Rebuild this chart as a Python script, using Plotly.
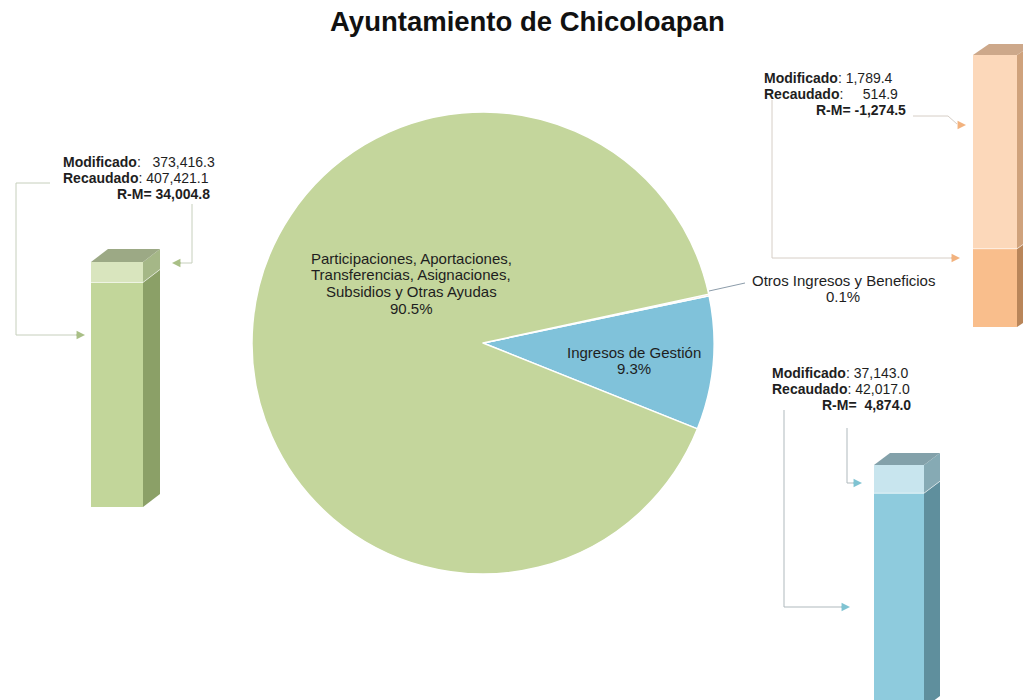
import plotly.graph_objects as go

# ---------------- data ----------------
rubros = [
    "Ingresos de Gestión",
    "Otros Ingresos y Beneficios",
    "Participaciones, Aportaciones, Transferencias, Asignaciones, Subsidios y Otras Ayudas",
]
rubros_lineas = [
    ["Ingresos de Gestión"],
    ["Otros Ingresos y Beneficios"],
    ["Participaciones, Aportaciones,", "Transferencias, Asignaciones,", "Subsidios y Otras Ayudas"],
]
modificado = [37143.0, 1789.4, 373416.3]
recaudado = [42017.0, 514.9, 407421.1]

titulo = "Ayuntamiento de Chicoloapan"

# ---------------- styles / layout helpers ----------------
W, H = 1023, 700
FONT = "Liberation Sans, Arial, sans-serif"
TXT = "#1e1e1e"


def fx(p):
    return p / W


def fy(p):
    return 1 - p / H


pie_colors = ["#80C2DA", "#F8AA70", "#C4D69C"]

# pixel frame of each 3D column: left, front width, base, top, depth x, depth y
bar_frames = [
    dict(L=874, Wd=50, B=708, T=465, dx=16, dy=12),   # Ingresos de Gestión
    dict(L=973, Wd=44, B=327, T=55, dx=16, dy=11),    # Otros Ingresos
    dict(L=91, Wd=52, B=507, T=262, dx=17, dy=13),    # Participaciones
]
bar_colors = [
    dict(low="#8ECBDD", high="#C8E5EE", side_low="#5F8F9D", side_high="#86AAB4", top="#83A1AA"),
    dict(low="#F9BE8C", high="#FCD8BA", side_low="#B98559", side_high="#CFA27C", top="#CDA88A"),
    dict(low="#C2D69A", high="#D9E5BE", side_low="#8BA067", side_high="#A5B787", top="#9CA985"),
]

fig = go.Figure()

# ---------------- pie ----------------
cx, cy, rad = 483, 343, 231
fig.add_trace(go.Pie(
    labels=rubros,
    values=recaudado,
    sort=False,
    direction="counterclockwise",
    rotation=78.2,
    marker=dict(colors=pie_colors, line=dict(color="white", width=1.5)),
    textinfo="none",
    hoverinfo="skip",
    showlegend=False,
    domain=dict(x=[fx(cx - rad), fx(cx + rad)], y=[fy(cy + rad), fy(cy - rad)]),
))

total = sum(recaudado)
pct = [v / total for v in recaudado]

annotations = []
shapes = []

# pie labels (line by line, centre x and first-line y in pixels)
pie_label_pos = [(634, 352), (843, 280), (411, 258)]
for i, (px, py) in enumerate(pie_label_pos):
    lines = rubros_lineas[i] + [f"{pct[i]:.1%}"]
    for j, ln in enumerate(lines):
        annotations.append(dict(
            x=fx(px), y=fy(py + j * 16.8), xref="paper", yref="paper",
            text=ln, showarrow=False, xanchor="center", yanchor="middle",
            font=dict(family=FONT, size=15, color=TXT),
        ))

# leader line to the small slice label
shapes.append(dict(type="line", xref="paper", yref="paper",
                   x0=fx(709), y0=fy(291), x1=fx(745), y1=fy(283),
                   line=dict(color="#8C9CAA", width=1)))

# ---------------- 3D columns ----------------
layout_axes = {}
for k in range(3):
    fr = bar_frames[k]
    col = bar_colors[k]
    m, r = modificado[k], recaudado[k]
    low, high = min(m, r), max(m, r)

    n = "" if k == 0 else str(k + 1)
    xa, ya = "x" + n, "y" + n

    vpp = high / (fr["B"] - fr["T"])           # value per pixel
    pbot = min(fr["B"], H)
    ptop = fr["T"] - fr["dy"] - 3
    right = min(fr["L"] + fr["Wd"] + fr["dx"] + 3, W)
    xr = (right - fr["L"]) / fr["Wd"]

    layout_axes["xaxis" + n] = dict(domain=[fx(fr["L"]), fx(right)], range=[0, xr],
                                    visible=False, fixedrange=True, anchor=ya)
    layout_axes["yaxis" + n] = dict(domain=[fy(pbot), fy(ptop)],
                                    range=[(fr["B"] - pbot) * vpp, (fr["B"] - ptop) * vpp],
                                    visible=False, fixedrange=True, anchor=xa)

    ddx = fr["dx"] / fr["Wd"]
    ddy = fr["dy"] * vpp

    # front faces
    fig.add_trace(go.Bar(x=[0.5], y=[low], base=[0], width=[1], xaxis=xa, yaxis=ya,
                         marker=dict(color=col["low"], line=dict(width=0)),
                         hoverinfo="skip", showlegend=False))
    fig.add_trace(go.Bar(x=[0.5], y=[high - low], base=[low], width=[1], xaxis=xa, yaxis=ya,
                         marker=dict(color=col["high"], line=dict(width=0)),
                         hoverinfo="skip", showlegend=False))
    # side faces
    fig.add_trace(go.Scatter(x=[1, 1 + ddx, 1 + ddx, 1, 1], y=[0, ddy, low + ddy, low, 0],
                             xaxis=xa, yaxis=ya, mode="lines", fill="toself",
                             fillcolor=col["side_low"], line=dict(width=0),
                             hoverinfo="skip", showlegend=False))
    fig.add_trace(go.Scatter(x=[1, 1 + ddx, 1 + ddx, 1, 1], y=[low, low + ddy, high + ddy, high, low],
                             xaxis=xa, yaxis=ya, mode="lines", fill="toself",
                             fillcolor=col["side_high"], line=dict(width=0),
                             hoverinfo="skip", showlegend=False))
    # boundary between segments
    fig.add_trace(go.Scatter(x=[0, 1, 1 + ddx], y=[low, low, low + ddy],
                             xaxis=xa, yaxis=ya, mode="lines",
                             line=dict(color="rgba(255,255,255,0.55)", width=1),
                             hoverinfo="skip", showlegend=False))
    # top face
    fig.add_trace(go.Scatter(x=[0, 1, 1 + ddx, ddx, 0], y=[high, high, high + ddy, high + ddy, high],
                             xaxis=xa, yaxis=ya, mode="lines", fill="toself",
                             fillcolor=col["top"], line=dict(width=0),
                             hoverinfo="skip", showlegend=False))

# ---------------- value boxes ----------------
NB = "\u00a0"


def fmt(v):
    return f"{v:,.1f}"


# (left x, first line y, right x of R-M line, gaps after Modificado/Recaudado)
value_boxes = [
    dict(x=770, y=373, xr=913, g1=1, g2=1, g3=2),
    dict(x=762, y=78, xr=908, g1=1, g2=5, g3=1),
    dict(x=61, y=162, xr=212, g1=3, g2=1, g3=1),
]
for k, vb in enumerate(value_boxes):
    m, r = modificado[k], recaudado[k]
    rows = [
        (f"<b>Modificado</b>:{NB * vb['g1']}{fmt(m)}", vb["x"], "left"),
        (f"<b>Recaudado</b>:{NB * vb['g2']}{fmt(r)}", vb["x"], "left"),
        (f"<b>R-M={NB * vb['g3']}{fmt(r - m)}</b>", vb["xr"], "right"),
    ]
    for j, (t, xx, anc) in enumerate(rows):
        annotations.append(dict(
            x=fx(xx), y=fy(vb["y"] + j * 16), xref="paper", yref="paper",
            text=t, showarrow=False, xanchor=anc, yanchor="middle",
            font=dict(family=FONT, size=14, color=TXT),
        ))

# ---------------- connector lines and arrowheads ----------------
connectors = [
    # Participaciones column
    dict(path=[(50, 183), (16, 183), (16, 335), (80, 335)], tip=(85, 335), ax=-10, line="#C6CFBC", arrow="#A9BF86"),
    dict(path=[(192, 204), (192, 263), (178, 263)], tip=(172, 263), ax=10, line="#C6CFBC", arrow="#A9BF86"),
    # Otros Ingresos column
    dict(path=[(772, 100), (772, 258), (954, 258)], tip=(960, 258), ax=-10, line="#D6CEC6", arrow="#F2B27E"),
    dict(path=[(913, 116), (948, 116), (957, 124)], tip=(966, 125), ax=-9, line="#D6CEC6", arrow="#F2B27E"),
    # Ingresos de Gestión column
    dict(path=[(784, 410), (784, 607), (844, 607)], tip=(850, 607), ax=-10, line="#AFB9BD", arrow="#7FC3D2"),
    dict(path=[(847, 428), (847, 483), (856, 483)], tip=(862, 483), ax=-10, line="#AFB9BD", arrow="#7FC3D2"),
]
for c in connectors:
    pts = c["path"]
    d = f"M {fx(pts[0][0])} {fy(pts[0][1])} " + " ".join(f"L {fx(p[0])} {fy(p[1])}" for p in pts[1:])
    shapes.append(dict(type="path", xref="paper", yref="paper", path=d,
                       line=dict(color=c["line"], width=1)))
    annotations.append(dict(
        x=fx(c["tip"][0]), y=fy(c["tip"][1]), xref="paper", yref="paper",
        ax=c["ax"], ay=0, text="", showarrow=True, arrowhead=2, arrowsize=1.3,
        arrowwidth=1.3, arrowcolor=c["arrow"],
    ))

# ---------------- title ----------------
annotations.append(dict(
    x=fx(527), y=fy(21), xref="paper", yref="paper", text=f"<b>{titulo}</b>",
    showarrow=False, xanchor="center", yanchor="middle",
    font=dict(family=FONT, size=27.5, color="#111111"),
))

fig.update_layout(
    width=W, height=H,
    margin=dict(l=0, r=0, t=0, b=0),
    paper_bgcolor="white", plot_bgcolor="rgba(0,0,0,0)",
    showlegend=False,
    barmode="overlay",
    annotations=annotations,
    shapes=shapes,
    **layout_axes,
)

fig.write_html("out.html")
